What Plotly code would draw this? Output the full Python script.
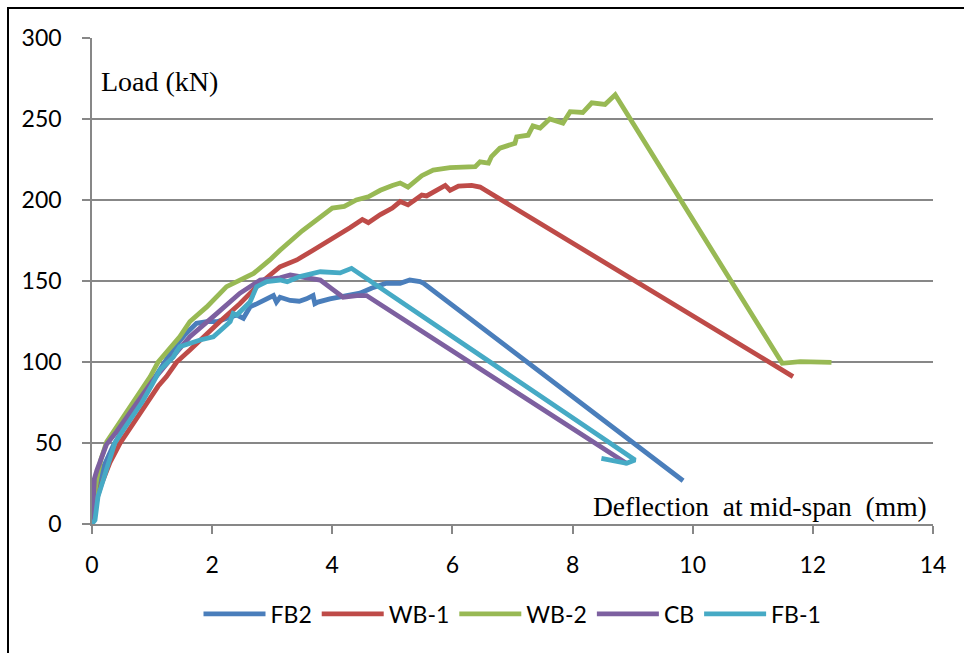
import plotly.graph_objects as go

# ---------------- data ----------------
fb2_x = [0, 0.04, 0.1, 0.2, 0.35, 0.5, 0.7, 0.9, 1.13, 1.35, 1.55, 1.74, 1.91, 2.08, 2.25,
         2.41, 2.52, 2.63, 2.75, 2.85, 3.02, 3.07, 3.13, 3.3, 3.45, 3.57, 3.68, 3.71, 3.76,
         3.96, 4.13, 4.3, 4.46, 4.66, 4.9, 5.13, 5.29, 5.46, 5.52, 9.84]
fb2_y = [0, 14, 25, 36, 48, 58, 70, 82, 95, 108, 117, 123.9, 124.9, 124.9, 127,
         129, 127, 134, 136, 138, 141, 137, 140, 138, 137.5, 139, 141, 136, 137,
         139, 140, 141, 142.5, 145.7, 148.6, 148.6, 150.6, 149.6, 148.6, 26.7]

wb1_x = [0, 0.05, 0.1, 0.16, 0.3, 0.47, 0.7, 0.91, 1.1, 1.24, 1.41, 1.63, 2.02, 2.13, 2.46,
         2.8, 3.13, 3.41, 3.68, 4.0, 4.3, 4.5, 4.6, 4.8, 5.0, 5.13, 5.26, 5.49, 5.57, 5.88,
         5.96, 6.1, 6.32, 6.46, 11.67]
wb1_y = [0, 10, 18, 25, 38, 50, 63, 75, 85, 91, 100, 107.4, 121.8, 125, 136,
         148.6, 158.8, 163, 169, 176, 183, 188, 186, 191, 195, 199, 197, 203, 202.5, 209,
         206, 208.6, 209, 208, 91]

wb2_x = [0, 0.03, 0.08, 0.15, 0.245, 0.45, 0.69, 0.97, 1.1, 1.46, 1.63, 1.91, 2.24, 2.46,
         2.69, 2.96, 3.13, 3.5, 3.8, 4.0, 4.2, 4.4, 4.6, 4.8, 5.0, 5.13, 5.26, 5.49, 5.68,
         5.96, 6.38, 6.46, 6.6, 6.65, 6.79, 7.04, 7.07, 7.26, 7.34, 7.46, 7.62, 7.84, 7.96,
         8.17, 8.32, 8.54, 8.71, 11.49, 11.79, 12.31]
wb2_y = [0, 15, 28, 40, 50.8, 62, 75, 91, 100, 115.6, 125, 134, 146.5, 150.6,
         154.7, 163, 169, 181, 189, 195, 196, 200, 202, 206, 209, 210.5, 208, 215, 218.5,
         220, 220.6, 223.6, 222.8, 226.8, 232, 235, 239, 240, 245.7, 244.4, 250, 247.5, 254.5,
         254, 260, 259, 265, 99.2, 100.2, 99.8]

cb_x = [0, 0.01, 0.02, 0.04, 0.08, 0.13, 0.24, 0.41, 0.6, 0.77, 1.0, 1.27, 1.63, 2.08,
        2.46, 2.8, 3.13, 3.3, 3.68, 3.8, 4.0, 4.18, 4.41, 4.57, 8.9]
cb_y = [0, 10, 21, 28, 33, 38, 49, 57, 67, 75, 88, 100, 115.6, 130,
        142.4, 150.6, 152, 153.7, 151.6, 150.6, 145, 140, 141, 141, 37.4]

fb1_x = [0, 0.05, 0.1, 0.22, 0.38, 0.52, 0.7, 0.83, 1.0, 1.13, 1.35, 1.46, 1.8, 2.02, 2.24,
         2.3, 2.35, 2.41, 2.63, 2.74, 2.91, 3.13, 3.25, 3.46, 3.8, 4.13, 4.32, 9.04, 8.9, 8.48]
fb1_y = [0, 2.5, 17, 31.5, 50, 58, 68, 75, 86, 95, 103, 109.4, 113.6, 115.6, 122.8,
         124.9, 130, 129, 137, 146.5, 149.6, 150.6, 149.5, 152.7, 155.7, 155, 157.8, 39.5, 37.5, 40.5]

series_names = ["FB2", "WB-1", "WB-2", "CB", "FB-1"]
series_colors = ["#4A7EBB", "#BE4B48", "#98B954", "#7D60A0", "#46AAC5"]
x_ticks = [0, 2, 4, 6, 8, 10, 12, 14]
y_ticks = [0, 50, 100, 150, 200, 250, 300]

# ---------------- figure ----------------
fig = go.Figure()
for name, col, xs, ys in zip(series_names, series_colors,
                             [fb2_x, wb1_x, wb2_x, cb_x, fb1_x],
                             [fb2_y, wb1_y, wb2_y, cb_y, fb1_y]):
    fig.add_trace(go.Scatter(x=xs, y=ys, mode="lines", name=name,
                             line=dict(color=col, width=4.8, shape="linear"),
                             hoverinfo="skip"))

W, H = 964, 653
L, R, T, B = 92, 31, 38, 129
pw, ph = W - L - R, H - T - B

def px2paper_x(px):
    return (px - L) / pw

def py2paper_y(py):
    return (H - B - py) / ph

grid = "#878787"
sans = "Lato, Open Sans, DejaVu Sans, sans-serif"
serif = "Liberation Serif, Times New Roman, serif"
tickfont = dict(family=sans, size=23, color="#000000")

fig.update_layout(
    width=W, height=H,
    margin=dict(l=L, r=R, t=T, b=B),
    paper_bgcolor="white", plot_bgcolor="white",
    showlegend=True,
    legend=dict(orientation="h", x=0.5, xanchor="center",
                y=py2paper_y(614), yanchor="middle",
                font=dict(family=sans, size=23, color="#000000"),
                bgcolor="rgba(0,0,0,0)", itemwidth=62),
    xaxis=dict(range=[0, 14], tickvals=x_ticks, showgrid=False, zeroline=False,
               showline=True, linecolor=grid, linewidth=1.6,
               ticks="outside", ticklen=8, tickcolor=grid, tickwidth=1.6,
               tickfont=tickfont, ticklabelstandoff=12),
    yaxis=dict(range=[0, 300], tickvals=y_ticks, showgrid=True, gridcolor=grid, gridwidth=1.6,
               zeroline=False, showline=True, linecolor=grid, linewidth=1.6,
               ticks="outside", ticklen=8, tickcolor=grid, tickwidth=1.6,
               tickfont=tickfont, ticklabelstandoff=16),
    annotations=[
        dict(text="Load (kN)", xref="paper", yref="paper",
             x=px2paper_x(99), y=py2paper_y(81), xanchor="left", yanchor="middle",
             showarrow=False, font=dict(family=serif, size=28, color="#000000")),
        dict(text="Deflection  at mid-span  (mm)", xref="paper", yref="paper",
             x=px2paper_x(929), y=py2paper_y(506), xanchor="right", yanchor="middle",
             showarrow=False, font=dict(family=serif, size=27.5, color="#000000")),
    ],
    shapes=[
        dict(type="rect", xref="paper", yref="paper",
             x0=px2paper_x(8), x1=px2paper_x(990),
             y0=py2paper_y(680), y1=py2paper_y(8),
             line=dict(color="#000000", width=2), fillcolor="rgba(0,0,0,0)", layer="below"),
    ],
)

fig.write_html("out.html")
